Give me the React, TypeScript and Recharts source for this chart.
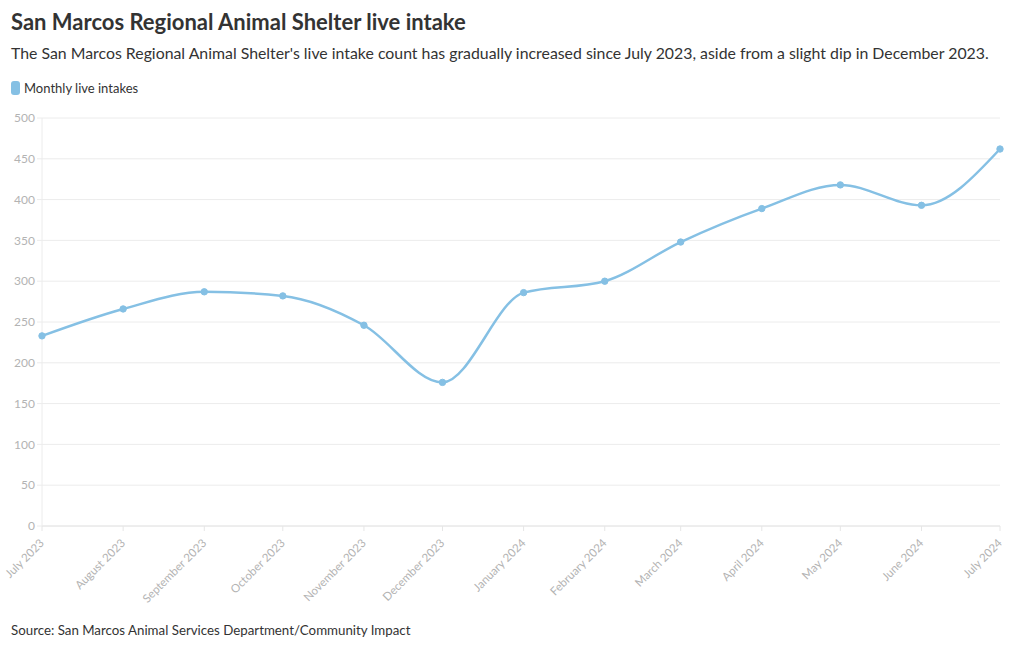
import React from "react";
import { LineChart, Line, XAxis, YAxis, CartesianGrid } from "recharts";

const months = [
  "July 2023", "August 2023", "September 2023", "October 2023", "November 2023", "December 2023",
  "January 2024", "February 2024", "March 2024", "April 2024", "May 2024", "June 2024", "July 2024",
];
const monthStarts: [number, number][] = [
  [2023, 6], [2023, 7], [2023, 8], [2023, 9], [2023, 10], [2023, 11],
  [2024, 0], [2024, 1], [2024, 2], [2024, 3], [2024, 4], [2024, 5], [2024, 6],
];
const intakes = [233, 266, 287, 282, 246, 176, 286, 300, 348, 389, 418, 393, 462];
const yTicks = [0, 50, 100, 150, 200, 250, 300, 350, 400, 450, 500];

const times = monthStarts.map(([y, m]) => Date.UTC(y, m, 1));
const data = times.map((t, i) => ({ t, value: intakes[i] }));
const labelOf = (t: number) => months[times.indexOf(t)] ?? "";

const FONT = "Lato, 'Noto Sans', sans-serif";
const COLOR = "#85c0e4";

const XTick = (props: any) => {
  const { x, y, payload } = props;
  return (
    <g transform={`translate(${x},${y + 8})`}>
      <text
        transform="rotate(-45)"
        textAnchor="end"
        dy={4}
        fill="#b3b3b3"
        fontSize={11.5}
        fontFamily={FONT}
      >
        {labelOf(payload.value)}
      </text>
    </g>
  );
};

export default function App() {
  return (
    <div style={{ position: "absolute", left: 0, top: 0, width: 1020, height: 650, background: "#fff", fontFamily: FONT }}>
      <div style={{ position: "absolute", left: 11, top: 8, fontSize: 22, fontWeight: 700, color: "#333", whiteSpace: "nowrap" }}>
        San Marcos Regional Animal Shelter live intake
      </div>
      <div style={{ position: "absolute", left: 11, top: 43, fontSize: 15.85, color: "#333", whiteSpace: "nowrap" }}>
        The San Marcos Regional Animal Shelter's live intake count has gradually increased since July 2023, aside from a slight dip in December 2023.
      </div>
      <div style={{ position: "absolute", left: 11, top: 80, display: "flex", alignItems: "center", fontSize: 13, color: "#333", whiteSpace: "nowrap" }}>
        <span style={{ display: "inline-block", width: 9, height: 14, borderRadius: 3, background: COLOR, marginRight: 4 }} />
        Monthly live intakes
      </div>
      <div style={{ position: "absolute", left: 0, top: 100 }}>
        <LineChart width={1020} height={520} data={data} margin={{ top: 18, right: 20, bottom: 34, left: 6 }}>
          <CartesianGrid vertical={false} stroke="#ececec" />
          <XAxis
            dataKey="t"
            type="number"
            scale="time"
            domain={[times[0], times[times.length - 1]]}
            ticks={times}
            interval={0}
            tick={<XTick />}
            height={60}
            axisLine={{ stroke: "#e6e6e6" }}
            tickLine={{ stroke: "#e6e6e6" }}
            tickSize={5}
          />
          <YAxis
            domain={[0, 500]}
            ticks={yTicks}
            interval={0}
            width={36}
            axisLine={{ stroke: "#ececec" }}
            tickLine={{ stroke: "#ececec" }}
            tickSize={5}
            tick={{ fill: "#b3b3b3", fontSize: 12, fontFamily: FONT }}
          />
          <Line
            type="monotone"
            dataKey="value"
            stroke={COLOR}
            strokeWidth={2.5}
            dot={{ r: 3.2, fill: COLOR, stroke: COLOR, strokeWidth: 1 }}
            isAnimationActive={false}
          />
        </LineChart>
      </div>
      <div style={{ position: "absolute", left: 11, top: 622, fontSize: 13.3, color: "#333", whiteSpace: "nowrap" }}>
        Source: San Marcos Animal Services Department/Community Impact
      </div>
    </div>
  );
}
